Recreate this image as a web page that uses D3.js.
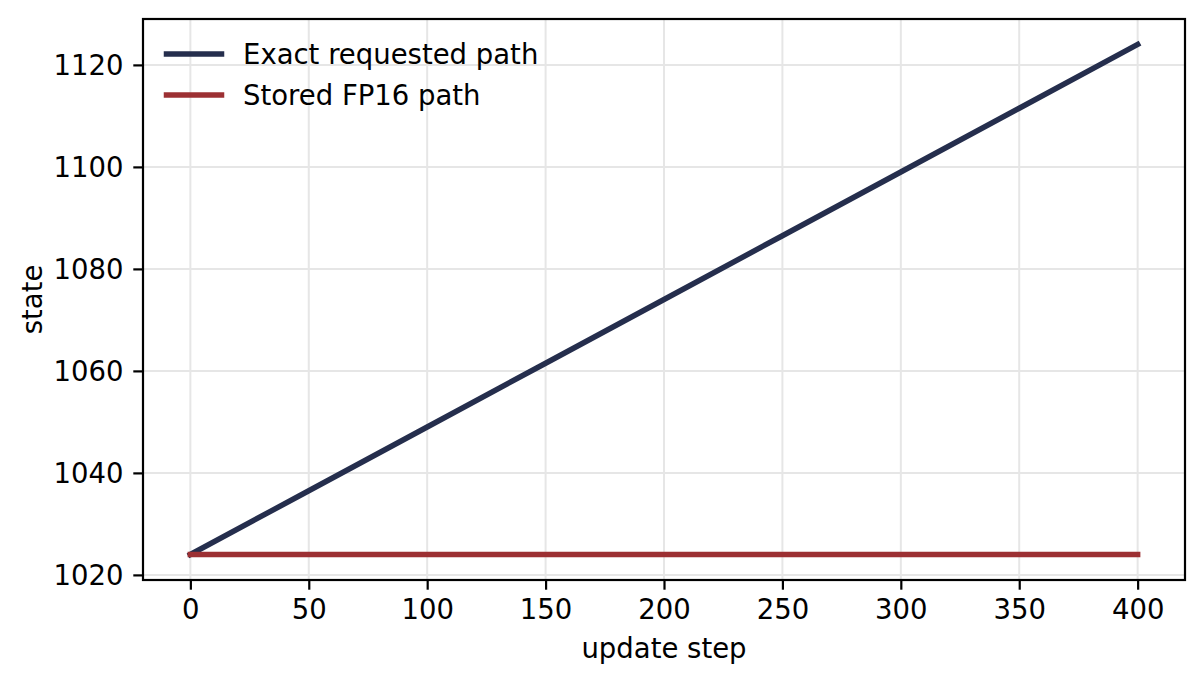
<!DOCTYPE html>
<html>
<head>
<meta charset="utf-8">
<script src="https://cdn.jsdelivr.net/npm/d3@7"></script>
<style>
  html, body { margin: 0; padding: 0; background: #fff; }
  svg { display: block; font-family: "DejaVu Sans", sans-serif; }
</style>
</head>
<body>
<svg id="chart" width="1204" height="683"></svg>
<script>
// values
var steps = [0, 50, 100, 150, 200, 250, 300, 350, 400]
var exactPath = [1024, 1036.5, 1049, 1061.5, 1074, 1086.5, 1099, 1111.5, 1124]
var storedPath = [1024, 1024, 1024, 1024, 1024, 1024, 1024, 1024, 1024]
var xTicks = [0, 50, 100, 150, 200, 250, 300, 350, 400]
var yTicks = [1020, 1040, 1060, 1080, 1100, 1120]
var seriesNames = ["Exact requested path", "Stored FP16 path"]
var seriesColors = ["#252e4d", "#9c3033"]

var width = 1204
var height = 683
var margin = { top: 19, right: 19, bottom: 103, left: 143 }
var plotW = width - margin.left - margin.right
var plotH = height - margin.top - margin.bottom
var fontSize = 27.5
var tickLen = 9.7

var svg = d3.select("#chart")
var g = svg.append("g").attr("transform", "translate(" + margin.left + "," + margin.top + ")")

var xScale = d3.scaleLinear().domain([-20, 420]).range([0, plotW])
var yScale = d3.scaleLinear().domain([1019, 1129]).range([plotH, 0])

// grid
g.append("g").selectAll("line.gx").data(xTicks).enter().append("line")
  .attr("class", "gx")
  .attr("x1", function (d) { return xScale(d) })
  .attr("x2", function (d) { return xScale(d) })
  .attr("y1", 0)
  .attr("y2", plotH)
  .attr("stroke", "#e6e6e6")
  .attr("stroke-width", 2)

g.append("g").selectAll("line.gy").data(yTicks).enter().append("line")
  .attr("class", "gy")
  .attr("x1", 0)
  .attr("x2", plotW)
  .attr("y1", function (d) { return yScale(d) })
  .attr("y2", function (d) { return yScale(d) })
  .attr("stroke", "#e6e6e6")
  .attr("stroke-width", 2)

// series
var line = d3.line()
  .x(function (d) { return xScale(d[0]) })
  .y(function (d) { return yScale(d[1]) })

var series = [d3.zip(steps, exactPath), d3.zip(steps, storedPath)]

g.selectAll("path.series").data(series).enter().append("path")
  .attr("class", "series")
  .attr("d", line)
  .attr("fill", "none")
  .attr("stroke", function (d, i) { return seriesColors[i] })
  .attr("stroke-width", 5.5)
  .attr("stroke-linecap", "square")
  .attr("stroke-linejoin", "round")

// frame
g.append("rect")
  .attr("x", 0).attr("y", 0)
  .attr("width", plotW).attr("height", plotH)
  .attr("fill", "none")
  .attr("stroke", "#000")
  .attr("stroke-width", 2.2)

// axes
var xAxis = g.append("g")
  .attr("transform", "translate(0," + plotH + ")")
  .call(d3.axisBottom(xScale).tickValues(xTicks).tickSize(tickLen).tickPadding(9.7).tickFormat(d3.format("d")))
var yAxis = g.append("g")
  .call(d3.axisLeft(yScale).tickValues(yTicks).tickSize(tickLen).tickPadding(9.7).tickFormat(d3.format("d")))

;[xAxis, yAxis].forEach(function (ax) {
  ax.select(".domain").remove()
  ax.selectAll(".tick line").attr("stroke", "#000").attr("stroke-width", 2.2)
  ax.selectAll(".tick text")
    .attr("fill", "#000")
    .style("font-family", "DejaVu Sans, sans-serif")
    .style("font-size", fontSize + "px")
})
xAxis.selectAll(".tick text").attr("dy", "0.73em")
yAxis.selectAll(".tick text").attr("dy", "0.36em")

// axis labels
svg.append("text")
  .attr("x", margin.left + plotW / 2)
  .attr("y", 657.5)
  .attr("text-anchor", "middle")
  .style("font-size", fontSize + "px")
  .text("update step")

svg.append("text")
  .attr("transform", "translate(42," + (margin.top + plotH / 2) + ") rotate(-90)")
  .attr("text-anchor", "middle")
  .style("font-size", fontSize + "px")
  .text("state")

// legend
var legend = svg.append("g").attr("transform", "translate(164,54)")
var rows = legend.selectAll("g.row").data(seriesNames).enter().append("g")
  .attr("class", "row")
  .attr("transform", function (d, i) { return "translate(0," + (i * 41) + ")" })

rows.append("line")
  .attr("x1", 2.5).attr("x2", 57.5)
  .attr("y1", 0).attr("y2", 0)
  .attr("stroke", function (d, i) { return seriesColors[i] })
  .attr("stroke-width", 5.5)
  .attr("stroke-linecap", "square")

rows.append("text")
  .attr("x", 79)
  .attr("y", 0)
  .attr("dy", "0.36em")
  .style("font-size", fontSize + "px")
  .text(function (d) { return d })
</script>
</body>
</html>
